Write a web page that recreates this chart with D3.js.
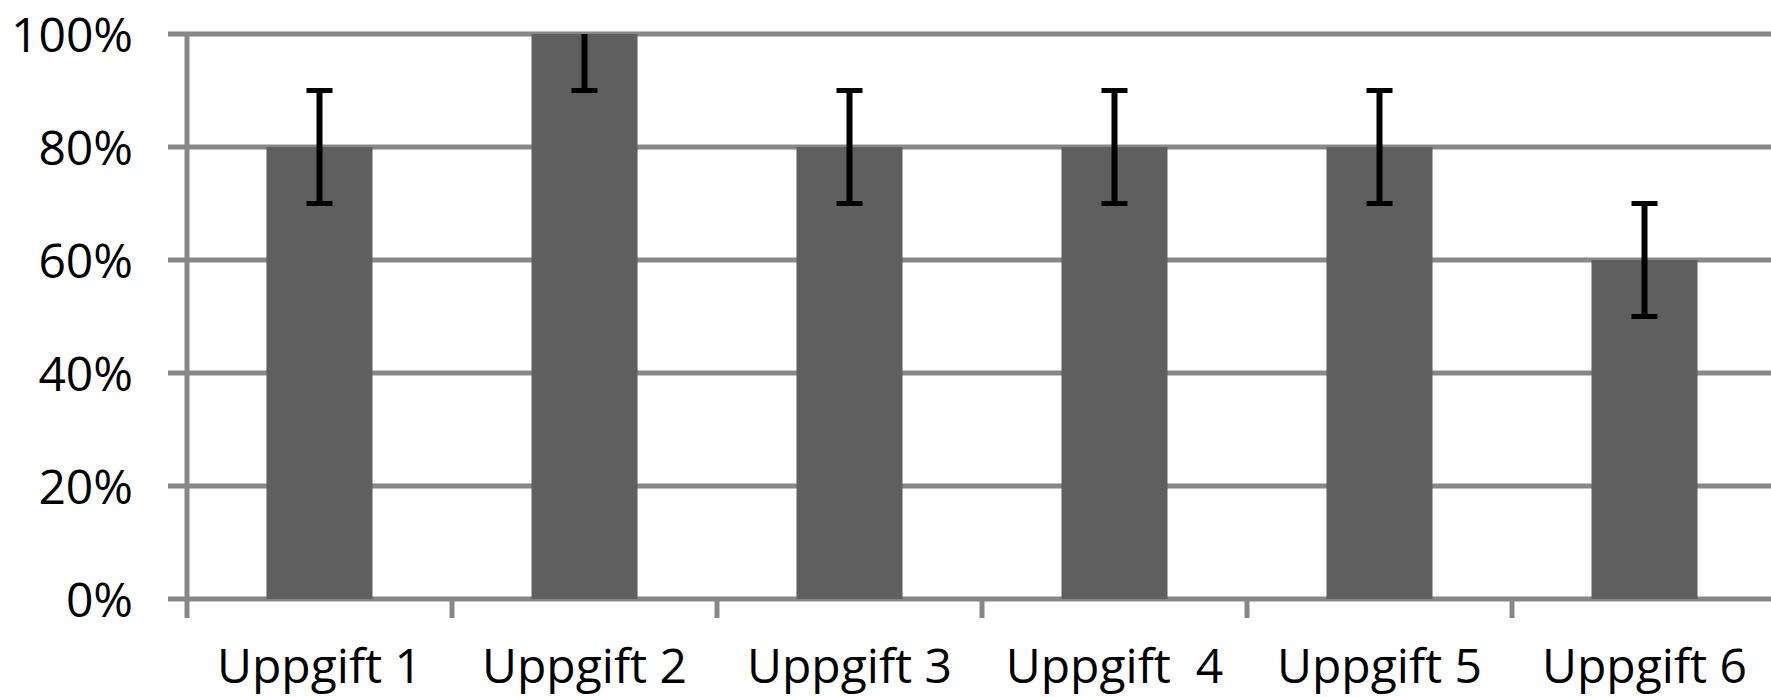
<html lang="sv">
<head>
	<meta charset="utf-8">
	<title>Uppgifter</title>
	<script src="https://d3js.org/d3.v7.min.js"></script>
	<style>
		body { margin: 0; background: #fff; }
		svg text { font-family: "Open Sans", Lato, sans-serif; fill: #000; }
	</style>
</head>
<body>
	<script>
	// data
	var categories = ["Uppgift 1", "Uppgift 2", "Uppgift 3", "Uppgift  4", "Uppgift 5", "Uppgift 6"];
	var values = [0.8, 1.0, 0.8, 0.8, 0.8, 0.6];
	var errors = [0.1, 0.1, 0.1, 0.1, 0.1, 0.1];
	var yTicks = [0, 0.2, 0.4, 0.6, 0.8, 1.0];

	var W = 1771, H = 697;
	var mLeft = 187, mTop = 34, mBottom = 599;
	var step = 265; // width of one category

	var svg = d3.select("body").append("svg")
		.attr("width", W)
		.attr("height", H);

	var y = d3.scaleLinear().domain([0, 1]).range([mBottom, mTop]);
	var x = d3.scaleBand()
		.domain(categories)
		.range([mLeft, mLeft + step * categories.length])
		.paddingInner(0.6)
		.paddingOuter(0.3);

	// gridlines
	svg.append("g").selectAll("line")
		.data(yTicks)
		.enter().append("line")
		.attr("x1", mLeft - 19)
		.attr("x2", W)
		.attr("y1", function(d){ return y(d); })
		.attr("y2", function(d){ return y(d); })
		.attr("stroke", "#878787")
		.attr("stroke-width", 5);

	// y axis (labels only + vertical line)
	var yAxis = svg.append("g")
		.attr("transform", "translate(" + mLeft + ",0)")
		.call(d3.axisLeft(y).tickValues(yTicks).tickFormat(d3.format(".0%")).tickSize(0).tickPadding(54));
	yAxis.select(".domain").remove();
	yAxis.selectAll("text")
		.attr("font-size", 48)
		.attr("dy", "0.36em");

	svg.append("line")
		.attr("x1", mLeft).attr("x2", mLeft)
		.attr("y1", mTop - 2).attr("y2", mBottom + 19)
		.attr("stroke", "#878787")
		.attr("stroke-width", 5);

	// bars
	svg.selectAll("rect.bar")
		.data(values)
		.enter().append("rect")
		.attr("class", "bar")
		.attr("x", function(d, i){ return x(categories[i]); })
		.attr("y", function(d){ return y(d); })
		.attr("width", x.bandwidth())
		.attr("height", function(d){ return mBottom - y(d); })
		.attr("fill", "#5f5f5f");

	// category tick marks between bars
	var bounds = categories.map(function(c){ return x(c) - x.step() * x.paddingOuter(); });
	svg.append("g").selectAll("line")
		.data(bounds.slice(1))
		.enter().append("line")
		.attr("x1", function(d){ return d; })
		.attr("x2", function(d){ return d; })
		.attr("y1", mBottom)
		.attr("y2", mBottom + 19)
		.attr("stroke", "#878787")
		.attr("stroke-width", 5);

	// x labels
	var xAxis = svg.append("g")
		.attr("transform", "translate(0," + mBottom + ")")
		.call(d3.axisBottom(x).tickSize(0).tickPadding(49));
	xAxis.select(".domain").remove();
	xAxis.selectAll("text")
		.attr("font-size", 48)
		.attr("dy", "0.72em")
		.style("white-space", "pre");

	// error bars (clipped at 100%)
	var eb = svg.append("g").selectAll("g")
		.data(values)
		.enter().append("g")
		.attr("transform", function(d, i){ return "translate(" + (x(categories[i]) + x.bandwidth() / 2) + ",0)"; });

	eb.append("line")
		.attr("y1", function(d, i){ return y(Math.min(1, d + errors[i])); })
		.attr("y2", function(d, i){ return y(d - errors[i]); })
		.attr("stroke", "#000")
		.attr("stroke-width", 6);

	eb.append("line")
		.attr("x1", -13).attr("x2", 13)
		.attr("y1", function(d, i){ return y(d - errors[i]); })
		.attr("y2", function(d, i){ return y(d - errors[i]); })
		.attr("stroke", "#000")
		.attr("stroke-width", 5);

	eb.filter(function(d, i){ return d + errors[i] <= 1; })
		.append("line")
		.attr("x1", -13).attr("x2", 13)
		.attr("y1", function(d, i){ return y(d + errors[i]); })
		.attr("y2", function(d, i){ return y(d + errors[i]); })
		.attr("stroke", "#000")
		.attr("stroke-width", 5);
	</script>
</body>
</html>
